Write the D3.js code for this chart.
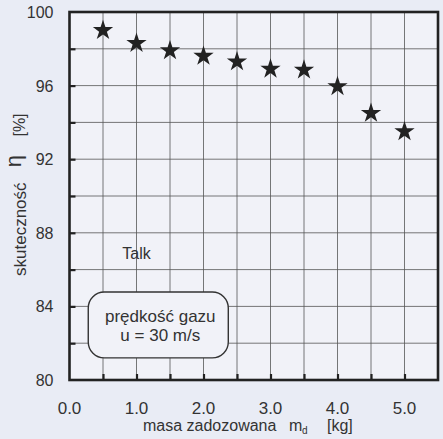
<!DOCTYPE html>
<html><head><meta charset="utf-8">
<script src="https://cdn.jsdelivr.net/npm/d3@7"></script>
<style>body{margin:0;background:#e9ecf5;}svg{display:block;font-family:"Liberation Sans",Arial,sans-serif;}text{white-space:pre;}</style>
</head><body>
<script>
const masses = [0.5, 1.0, 1.5, 2.0, 2.5, 3.0, 3.5, 4.0, 4.5, 5.0];
const efficiency = [99.0, 98.3, 97.9, 97.6, 97.3, 96.9, 96.85, 95.95, 94.5, 93.5];
const xTickLabels = [0, 1, 2, 3, 4, 5];
const yTickLabels = [80, 84, 88, 92, 96, 100];
const xGrid = [0.5, 1, 1.5, 2, 2.5, 3, 3.5, 4, 4.5, 5];
const yGrid = [82, 84, 86, 88, 90, 92, 94, 96, 98];

const W = 443, H = 439;
const m = {l: 69.5, r: 5, t: 12, b: 59};
const svg = d3.select("body").append("svg").attr("width", W).attr("height", H);
svg.append("rect").attr("width", W).attr("height", H).attr("fill", "#e9ecf5");

const x = d3.scaleLinear().domain([0, 5.5]).range([m.l, W - m.r]);
const y = d3.scaleLinear().domain([80, 100]).range([H - m.b, m.t]);

svg.append("rect").attr("x", x(0)).attr("y", y(100)).attr("width", x(5.5) - x(0)).attr("height", y(80) - y(100)).attr("fill", "#f1f2f8");

// grid
const g = svg.append("g").attr("stroke", "#555").attr("stroke-width", 0.8);
g.selectAll(".vx").data(xGrid).join("line").attr("x1", d => x(d)).attr("x2", d => x(d)).attr("y1", y(100)).attr("y2", y(80));
g.selectAll(".hy").data(yGrid).join("line").attr("y1", d => y(d)).attr("y2", d => y(d)).attr("x1", x(0)).attr("x2", x(5.5));

// axes with inward ticks
const xAxis = d3.axisTop(x).tickValues(xGrid).tickSize(6).tickFormat("");
svg.append("g").attr("transform", `translate(0,${y(80)})`).call(xAxis)
  .call(a => a.select(".domain").remove())
  .selectAll("line").attr("stroke", "#222").attr("stroke-width", 2.2);
const yAxis = d3.axisRight(y).tickValues(yGrid).tickSize(6).tickFormat("");
svg.append("g").attr("transform", `translate(${x(0)},0)`).call(yAxis)
  .call(a => a.select(".domain").remove())
  .selectAll("line").attr("stroke", "#222").attr("stroke-width", 2.2);

// tick labels
svg.append("g").selectAll("text").data(xTickLabels).join("text")
  .attr("x", d => x(d)).attr("y", y(80) + 34).attr("text-anchor", "middle")
  .attr("font-size", 17).attr("fill", "#333").text(d => d.toFixed(1));
svg.append("g").selectAll("text").data(yTickLabels).join("text")
  .attr("x", x(0) - 16).attr("y", d => y(d) + 6).attr("text-anchor", "end")
  .attr("font-size", 16).attr("fill", "#333").text(d => d);

// frame
svg.append("rect").attr("x", x(0)).attr("y", y(100)).attr("width", x(5.5) - x(0)).attr("height", y(80) - y(100))
  .attr("fill", "none").attr("stroke", "#222").attr("stroke-width", 2.6);

// annotation
svg.append("text").attr("x", x(1.0)).attr("y", y(86.6)).attr("text-anchor", "middle").attr("font-size", 16).attr("fill", "#333").text("Talk");
const bx0 = x(0.28), bx1 = x(2.37), by0 = y(84.78), by1 = y(81.2);
svg.append("rect").attr("x", bx0).attr("y", by0).attr("width", bx1 - bx0).attr("height", by1 - by0)
  .attr("rx", 16).attr("ry", 16).attr("fill", "#f1f2f8").attr("stroke", "#333").attr("stroke-width", 1.4);
svg.append("text").attr("x", (bx0 + bx1) / 2 + 2).attr("y", by0 + 30).attr("text-anchor", "middle").attr("font-size", 17).attr("fill", "#333").text("prędkość gazu");
svg.append("text").attr("x", (bx0 + bx1) / 2 + 2).attr("y", by0 + 49).attr("text-anchor", "middle").attr("font-size", 17).attr("fill", "#333").text("u = 30 m/s");

// stars
const star = d3.symbol().type(d3.symbolStar).size(128);
svg.append("g").selectAll("path").data(masses).join("path")
  .attr("transform", (d, i) => `translate(${x(d)},${y(efficiency[i])})`)
  .attr("d", star).attr("fill", "#222");

// x axis title
const tx = svg.append("g").attr("fill", "#333").attr("font-size", 16);
tx.append("text").attr("x", 143).attr("y", 431).text("masa zadozowana");
tx.append("text").attr("x", 289).attr("y", 431).text("m");
tx.append("text").attr("x", 302).attr("y", 434).attr("font-size", 10).text("d");
tx.append("text").attr("x", 327).attr("y", 431).text("[kg]");

// y axis title
const ty = svg.append("g").attr("fill", "#333");
ty.append("text").attr("transform", "translate(25.5,276) rotate(-90)").attr("font-size", 17).text("skuteczność");
ty.append("text").attr("transform", "translate(21,161) rotate(-90)").attr("text-anchor", "middle").attr("font-size", 22).text("η");
ty.append("text").attr("transform", "translate(25,125) rotate(-90)").attr("text-anchor", "middle").attr("font-size", 16).text("[%]");
</script>
</body></html>
